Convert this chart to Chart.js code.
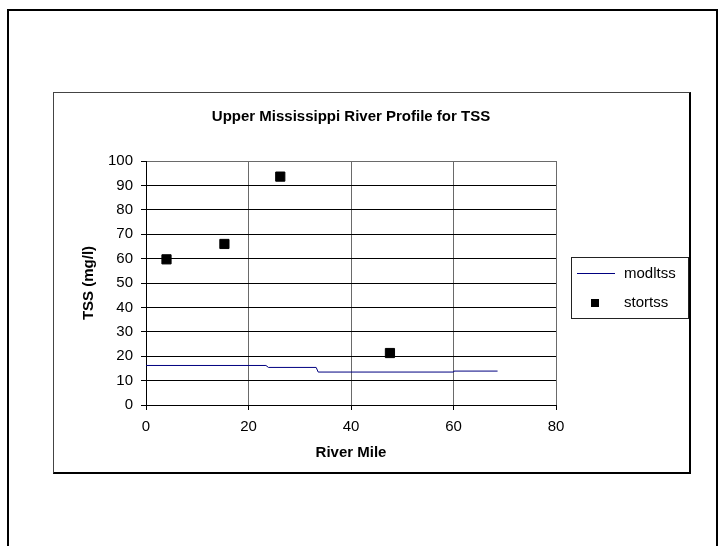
<!DOCTYPE html>
<html>
<head>
<meta charset="utf-8">
<script src="https://cdn.jsdelivr.net/npm/chart.js@4.4.0/dist/chart.umd.min.js"></script>
<style>
html, body { margin: 0; padding: 0; background: #fff; overflow: hidden; }
#page { position: absolute; left: 7px; top: 9px; width: 707px; height: 600px; border: 2px solid #000; border-bottom: none; }
#box { position: absolute; left: 53px; top: 92px; width: 635px; height: 379px;
  border-left: 1px solid #444; border-top: 1px solid #444; border-right: 2px solid #000; border-bottom: 2px solid #000; }
canvas { position: absolute; left: 0; top: 0; }
</style>
</head>
<body>
<div id="page"></div>
<div id="box"></div>
<canvas id="TssChart" width="721" height="546"></canvas>
<script>
// model profile (river mile / TSS mg/l)
var modlMile = [0, 23.4, 23.9, 33.2, 33.6, 60.0, 60.1, 68.6];
var modlTss = [16.2, 16.2, 15.4, 15.4, 13.5, 13.5, 13.9, 13.9];

// stored observations
var stortMile = [4.0, 15.3, 26.2, 47.6];
var stortTss = [59.7, 66.0, 93.6, 21.3];

var xRange = [0, 80], xStep = 20;
var yRange = [0, 100], yStep = 10;

var seriesNames = ['modltss', 'stortss'];

Chart.defaults.font.family = '"Liberation Sans", Arial, sans-serif';
Chart.defaults.color = '#000';

function toPoints(xs, ys) {
  return xs.map(function (x, i) { return { x: x, y: ys[i] }; });
}

// small boxed legend like the spreadsheet one
var boxLegend = {
  id: 'boxLegend',
  afterDraw: function (chart) {
    var ctx = chart.ctx;
    var ds = chart.data.datasets;
    ctx.save();
    ctx.strokeStyle = '#222';
    ctx.lineWidth = 1;
    ctx.strokeRect(571.5, 257.5, 117, 61);

    ctx.strokeStyle = ds[0].borderColor;
    ctx.lineWidth = ds[0].borderWidth;
    ctx.beginPath();
    ctx.moveTo(577, 273.5);
    ctx.lineTo(615, 273.5);
    ctx.stroke();

    ctx.fillStyle = ds[1].backgroundColor;
    ctx.fillRect(591, 299, 8, 8);

    ctx.fillStyle = '#000';
    ctx.font = '15px "Liberation Sans", Arial, sans-serif';
    ctx.textBaseline = 'middle';
    ctx.textAlign = 'left';
    ctx.fillText(ds[0].label, 624, 274);
    ctx.fillText(ds[1].label, 624, 303);
    ctx.restore();
  }
};

var config = {
  type: 'scatter',
  data: {
    datasets: [{
      label: seriesNames[0],
      data: toPoints(modlMile, modlTss),
      showLine: true,
      borderColor: '#000080',
      borderWidth: 1,
      pointRadius: 0,
      tension: 0
    }, {
      label: seriesNames[1],
      data: toPoints(stortMile, stortTss),
      showLine: false,
      pointStyle: 'rect',
      pointRadius: 6.5,
      backgroundColor: '#000',
      borderColor: '#000',
      borderWidth: 1
    }]
  },
  options: {
    responsive: false,
    animation: false,
    layout: { padding: { left: 60, top: 93, right: 165, bottom: 73 } },
    plugins: {
      legend: { display: false },
      tooltip: { enabled: false },
      title: {
        display: true,
        fullSize: false,
        text: 'Upper Mississippi River Profile for TSS',
        font: { size: 15, weight: 'bold' },
        color: '#000',
        padding: { top: 15, bottom: 35 }
      }
    },
    scales: {
      x: {
        type: 'linear',
        min: xRange[0],
        max: xRange[1],
        ticks: { stepSize: xStep, font: { size: 15 }, padding: 8, color: '#000' },
        grid: { color: '#6a6a6a', tickColor: '#000', tickLength: 5, lineWidth: 1 },
        border: { color: '#000', width: 1 },
        title: { display: true, text: 'River Mile', font: { size: 15, weight: 'bold' }, color: '#000', padding: { top: 0, bottom: 11 } },
        afterFit: function (scale) { scale.height = 68; }
      },
      y: {
        type: 'linear',
        min: yRange[0],
        max: yRange[1],
        ticks: { stepSize: yStep, font: { size: 15 }, padding: 8, color: '#000' },
        grid: {
          color: function (c) { return c.tick && c.tick.value === yRange[1] ? '#6a6a6a' : '#000'; },
          tickColor: '#000',
          tickLength: 5,
          lineWidth: 1
        },
        border: { color: '#000', width: 1 },
        title: { display: true, text: 'TSS (mg/l)', font: { size: 15, weight: 'bold' }, color: '#000', padding: { top: 20, bottom: 0 } },
        afterFit: function (scale) { scale.width = 86; }
      }
    }
  },
  plugins: [boxLegend]
};

var ctx = document.getElementById('TssChart').getContext('2d');
window.tssChart = new Chart(ctx, config);
</script>
</body>
</html>
